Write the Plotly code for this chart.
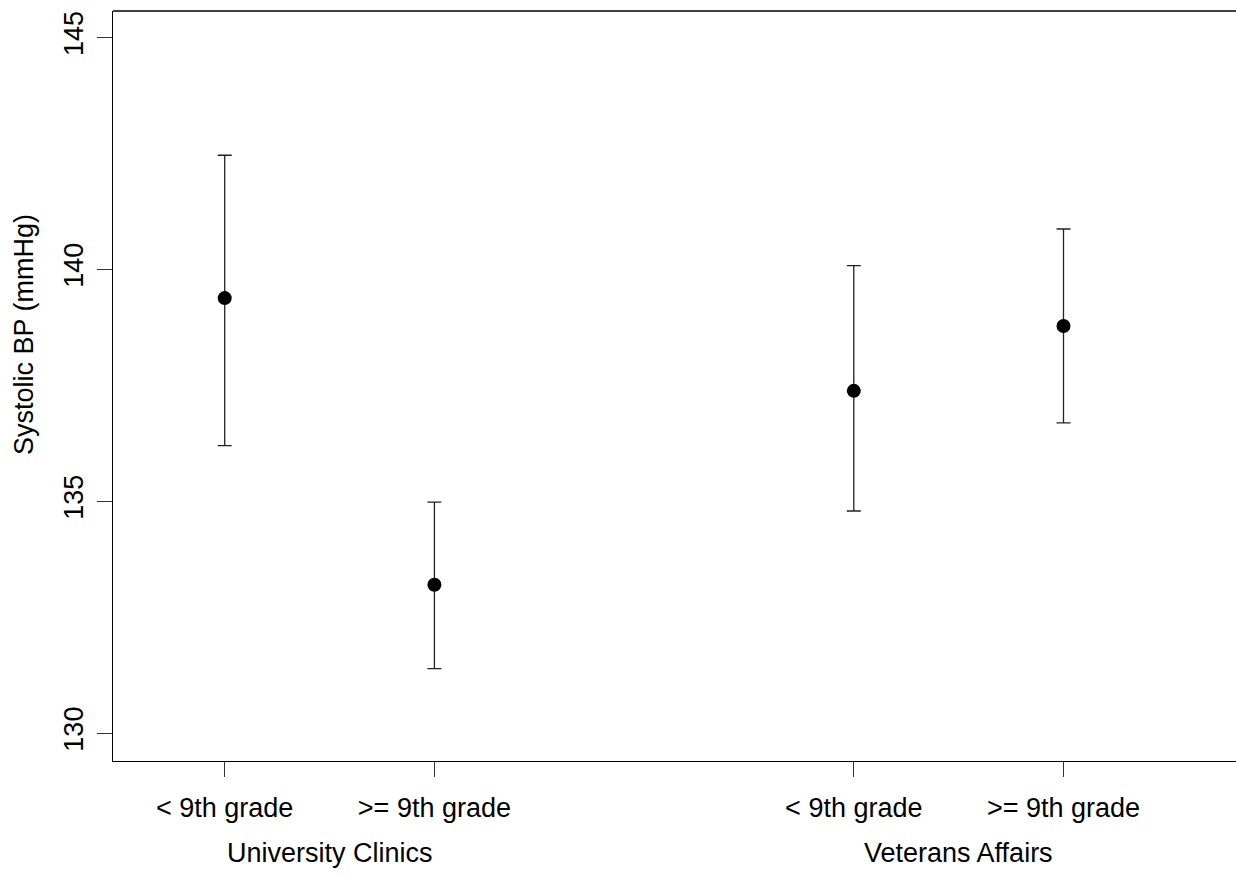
import plotly.graph_objects as go

# Data
positions = [1, 2, 4, 5]
tick_labels = ["< 9th grade", ">= 9th grade", "< 9th grade", ">= 9th grade"]
means = [139.38, 133.20, 137.38, 138.78]
lower = [136.20, 131.39, 134.79, 136.69]
upper = [142.46, 134.98, 140.08, 140.87]
group_names = ["University Clinics", "Veterans Affairs"]
group_centers = [1.5, 4.5]
y_ticks = [130, 135, 140, 145]

FONT = "Liberation Sans, Arial, Helvetica, sans-serif"
W, H = 1236, 876
L, T, B, R = 113, 11, 115, 0

err_plus = [u - m for u, m in zip(upper, means)]
err_minus = [m - l for m, l in zip(means, lower)]

fig = go.Figure()
fig.add_trace(go.Scatter(
    x=positions, y=means, mode="markers",
    marker=dict(size=14, color="black", symbol="circle"),
    error_y=dict(type="data", symmetric=False, array=err_plus, arrayminus=err_minus,
                 color="#222222", thickness=1.3, width=7),
    showlegend=False, hoverinfo="skip",
))

for name, cx in zip(group_names, group_centers):
    fig.add_annotation(x=cx, xref="x", y=(761 - 853) / 750, yref="paper", text=name,
                       showarrow=False, xanchor="center", yanchor="middle",
                       font=dict(family=FONT, size=27, color="black"))

fig.add_annotation(x=(24 - L) / (W - L - R), xref="paper", y=(761 - 335) / 750, yref="paper",
                   text="Systolic BP (mmHg)", textangle=-90, showarrow=False,
                   xanchor="center", yanchor="middle",
                   font=dict(family=FONT, size=27, color="black"))

# top border line
fig.add_shape(type="line", xref="paper", yref="paper", x0=0, x1=1, y0=1, y1=1,
              line=dict(color="black", width=1.3))

fig.update_layout(
    width=W, height=H,
    margin=dict(l=L, r=R, t=T, b=B),
    plot_bgcolor="white", paper_bgcolor="white",
    font=dict(family=FONT, size=27, color="black"),
    xaxis=dict(range=[0.4673, 5.8226], tickvals=positions, ticktext=tick_labels,
               showgrid=False, zeroline=False, showline=True, linecolor="black", linewidth=1.3,
               ticks="outside", ticklen=15, tickcolor="#333333", tickwidth=1.3,
               tickfont=dict(family=FONT, size=27, color="black"), ticklabelstandoff=7),
    yaxis=dict(range=[129.40, 145.57], tickvals=y_ticks,
               showgrid=False, zeroline=False, showline=True, linecolor="black", linewidth=1.3,
               ticks="outside", ticklen=15, tickcolor="#333333", tickwidth=1.3, tickangle=-90,
               tickfont=dict(family=FONT, size=27, color="black"), ticklabelstandoff=3),
)

fig.write_html("out.html", config={"displayModeBar": False},
               post_script="document.body.style.margin='0';document.body.style.overflow='hidden';")
